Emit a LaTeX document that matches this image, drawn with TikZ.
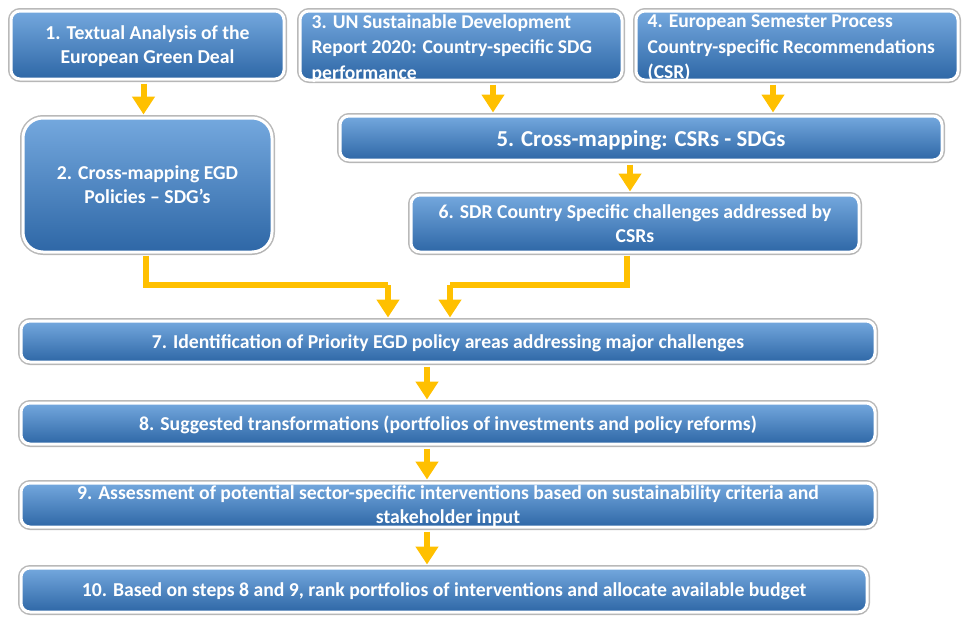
\documentclass[tikz,border=0pt]{standalone}
\usepackage{fontspec}
\setmainfont{Carlito}
\usetikzlibrary{arrows.meta,shadows}

\definecolor{boxtop}{HTML}{74A8DE}
\definecolor{boxmid}{HTML}{4D8CCF}
\definecolor{boxbot}{HTML}{2E67A6}
\definecolor{flowgold}{HTML}{FFC000}

\tikzset{
  stepbox/.style={rectangle, rounded corners=9pt, inner sep=0pt,
    top color=boxtop, middle color=boxmid, bottom color=boxbot,
    draw=white, line width=3pt,
    preaction={draw=gray!55, line width=6pt},
    drop shadow={opacity=0.2, shadow xshift=1pt, shadow yshift=-2pt},
    text=white, font=\bfseries\fontsize{19.7}{24}\selectfont, align=center,
    text depth=0pt},
  toptext/.style={text=white, font=\bfseries\fontsize{19.6}{25.5}\selectfont,
    align=left, inner sep=0pt, anchor=north west, xshift=13pt, yshift=-5pt},
  flow/.style={draw=flowgold, line width=6pt,
    -{Triangle[width=22pt,length=18pt]}, shorten <=3pt, shorten >=2pt},
  flowline/.style={draw=flowgold, line width=6pt, shorten <=2pt}
}

\begin{document}
\begin{tikzpicture}[x=1pt,y=-1pt]

\useasboundingbox (0,0) rectangle (963,621);

% top row
\node[stepbox, minimum width=273, minimum height=68] at (147.5,45) (text) {1. Textual Analysis of the\\European Green Deal};
\node[stepbox, minimum width=322, minimum height=69,
  label={[toptext]north west:3. UN Sustainable Development\\Report 2020: Country-specific SDG\\performance}] at (461,45.5) (sdr) {};
\node[stepbox, minimum width=322, minimum height=69,
  label={[toptext]north west:4. European Semester Process\\Country-specific Recommendations\\(CSR)}] at (797,45.5) (csr) {};

% second row
\node[stepbox, rounded corners=20pt, minimum width=249, minimum height=134] at (147.5,185) (egd) {2. Cross-mapping EGD\\Policies -- SDG’s};
\node[stepbox, minimum width=602, minimum height=44, font=\bfseries\fontsize{22.8}{26}\selectfont] at (641,138) (cross) {5. Cross-mapping: CSRs - SDGs};
\node[stepbox, minimum width=448, minimum height=57] at (635,223.5) (chal) {6. SDR Country Specific challenges addressed by\\CSRs};

% full width steps
\node[stepbox, minimum width=854, minimum height=41] at (448,341.5) (prio) {7. Identification of Priority EGD policy areas addressing major challenges};
\node[stepbox, minimum width=854, minimum height=41] at (448,423.5) (trans) {8. Suggested transformations (portfolios of investments and policy reforms)};
\node[stepbox, minimum width=854, minimum height=44] at (448,505) (assess) {9. Assessment of potential sector-specific interventions based on sustainability criteria and\\stakeholder input};
\node[stepbox, minimum width=846, minimum height=44] at (444,590) (rank) {10. Based on steps 8 and 9, rank portfolios of interventions and allocate available budget};

% arrows
\draw[flow] ([xshift=-4pt]text.south) -- ([xshift=-4pt]text.south |- egd.north);
\draw[flow] ([xshift=32pt]sdr.south) -- ([xshift=32pt]sdr.south |- cross.north);
\draw[flow] ([xshift=-24pt]csr.south) -- ([xshift=-24pt]csr.south |- cross.north);
\draw[flow] ([xshift=-11pt]cross.south) -- ([xshift=-11pt]cross.south |- chal.north);

\coordinate (mergeL) at (388,285);
\coordinate (mergeR) at (450,285);
\draw[flowline] ([xshift=-2pt]egd.south) |- (mergeL);
\draw[flow, shorten <=0pt] (mergeL) -- (mergeL |- prio.north);
\draw[flowline] ([xshift=-8pt]chal.south) |- (mergeR);
\draw[flow, shorten <=0pt] (mergeR) -- (mergeR |- prio.north);

\draw[flow] ([xshift=-21pt]prio.south) -- ([xshift=-21pt]prio.south |- trans.north);
\draw[flow] ([xshift=-21pt]trans.south) -- ([xshift=-21pt]trans.south |- assess.north);
\draw[flow] ([xshift=-21pt]assess.south) -- ([xshift=-21pt]assess.south |- rank.north);

\end{tikzpicture}
\end{document}
